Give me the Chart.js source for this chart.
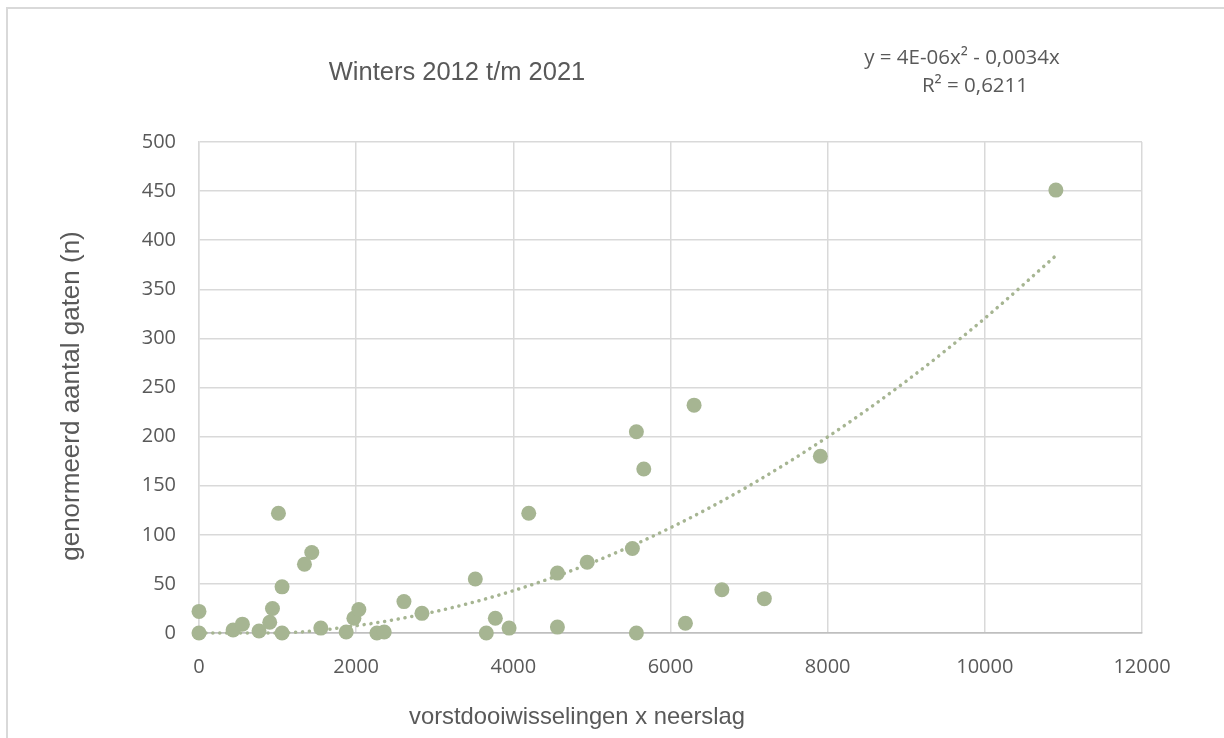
<!DOCTYPE html>
<html><head><meta charset="utf-8">
<script src="https://cdn.jsdelivr.net/npm/chart.js@4.4.1/dist/chart.umd.min.js"></script>
<style>html,body{margin:0;padding:0;background:#fff;overflow:hidden}</style>
</head><body>
<canvas id="c" width="1224" height="738" style="display:block;width:1224px;height:738px"></canvas>
<script>
const chartTitle = 'Winters 2012 t/m 2021';
const equationLines = ['y = 4E-06x\u00B2 - 0,0034x', 'R\u00B2 = 0,6211'];
const xAxisTitle = 'vorstdooiwisselingen x neerslag';
const yAxisTitle = 'genormeerd aantal gaten (n)';

const xValues = [0, 0, 434, 552, 764, 900, 935, 1011, 1057, 1057, 1342, 1435, 1550, 1873, 1971, 2034, 2264, 2357, 2608, 2837, 3516, 3656, 3771, 3946, 4196, 4561, 4561, 4940, 5515, 5566, 5660, 5566, 6300, 6190, 6654, 7194, 7907, 10904];
const yValues = [22, 0, 3, 9, 2, 11, 25, 122, 47, 0, 70, 82, 5, 1, 15, 24, 0, 1, 32, 20, 55, 0, 15, 5, 122, 61, 6, 72, 86, 205, 167, 0, 232, 10, 44, 35, 180, 451];

// trendline (polynomial, order 2)
const trendX = [0, 1000, 2000, 3000, 4000, 5000, 6000, 7000, 8000, 9000, 10000, 10900];
const trendY = [0, 0.1, 7.4, 21.7, 43.1, 71.6, 107.2, 149.9, 199.7, 256.5, 320.5, 384];

const xTicks = [0, 2000, 4000, 6000, 8000, 10000, 12000];
const yTicks = [0, 50, 100, 150, 200, 250, 300, 350, 400, 450, 500];

const markColor = '#A6B592';
const textColor = '#595959';
const gridColor = '#D9D9D9';

const decor = {
  id: 'decor',
  beforeDraw(chart) {
    const ctx = chart.ctx;
    ctx.save();
    ctx.fillStyle = '#fff';
    ctx.fillRect(0, 0, chart.width, chart.height);
    ctx.fillStyle = '#D9D9D9';
    ctx.fillRect(6, 7, chart.width - 6, 2);
    ctx.fillRect(6, 7, 2, chart.height - 7);
    ctx.restore();
  },
  afterDraw(chart) {
    const ctx = chart.ctx;
    ctx.save();
    ctx.fillStyle = textColor;
    ctx.textAlign = 'center';
    ctx.textBaseline = 'middle';
    ctx.font = '25.5px "Liberation Sans", Arial, sans-serif';
    ctx.fillText(chartTitle, 457, 73);
    ctx.font = '20.5px "Open Sans", sans-serif';
    ctx.fillText(equationLines[0], 962, 58);
    ctx.fillText(equationLines[1], 975, 86);
    ctx.font = '23.8px "Liberation Sans", Arial, sans-serif';
    ctx.fillText(xAxisTitle, 577, 717);
    ctx.translate(72, 396);
    ctx.rotate(-Math.PI / 2);
    ctx.font = '26px "Liberation Sans", Arial, sans-serif';
    ctx.fillText(yAxisTitle, 0, 0);
    ctx.restore();
  }
};

new Chart(document.getElementById('c'), {
  type: 'scatter',
  data: {
    datasets: [
      {
        type: 'scatter',
        data: xValues.map((x, i) => ({ x: x, y: yValues[i] })),
        backgroundColor: markColor,
        borderWidth: 0,
        pointRadius: 7.5,
        pointHoverRadius: 7.5,
        clip: false,
        order: 0
      },
      {
        type: 'line',
        data: trendX.map((x, i) => ({ x: x, y: trendY[i] })),
        borderColor: markColor,
        borderWidth: 3.5,
        borderDash: [0.1, 6.8],
        borderCapStyle: 'round',
        pointRadius: 0,
        fill: false,
        cubicInterpolationMode: 'monotone',
        clip: false,
        order: 1
      }
    ]
  },
  options: {
    responsive: false,
    animation: false,
    events: [],
    layout: { padding: { top: 142, right: 82, left: 0, bottom: 0 } },
    plugins: { legend: { display: false }, tooltip: { enabled: false }, title: { display: false } },
    scales: {
      x: {
        type: 'linear',
        min: 0, max: 12000,
        afterBuildTicks: s => { s.ticks = xTicks.map(v => ({ value: v })); },
        afterFit: s => { s.height = 105; },
        grid: { color: gridColor, lineWidth: 1.5, drawTicks: false },
        border: { color: '#BFBFBF', width: 1.5 },
        ticks: { color: textColor, font: { family: 'Open Sans', size: 20 }, padding: 22, maxRotation: 0, callback: v => String(v) }
      },
      y: {
        type: 'linear',
        min: 0, max: 500,
        afterBuildTicks: s => { s.ticks = yTicks.map(v => ({ value: v })); },
        afterFit: s => { s.width = 199; },
        grid: { color: c => (c.tick && c.tick.value === 0 ? '#BFBFBF' : gridColor), lineWidth: 1.5, drawTicks: false },
        border: { color: gridColor, width: 1.5 },
        ticks: { color: textColor, font: { family: 'Open Sans', size: 20 }, padding: 23, callback: v => String(v) }
      }
    }
  },
  plugins: [decor]
});
</script>
</body></html>
